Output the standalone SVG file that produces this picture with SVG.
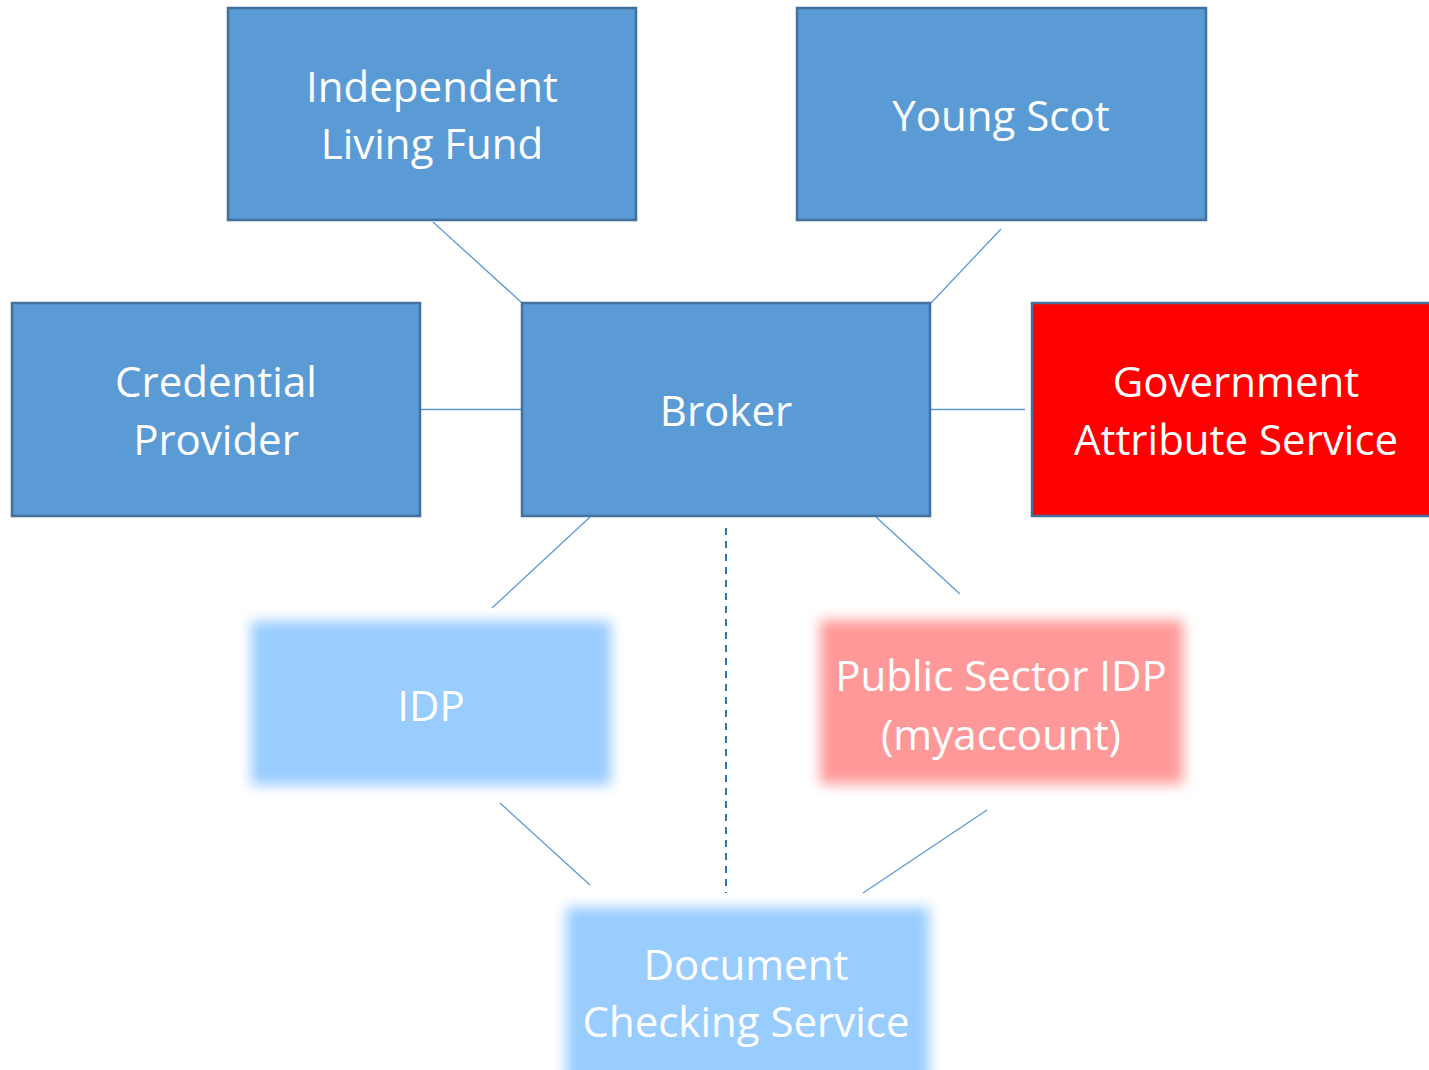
<svg xmlns="http://www.w3.org/2000/svg" width="1429" height="1070" viewBox="0 0 1429 1070">
<style>
.box{fill:#5B9BD5;stroke:#41719C;stroke-width:2.5}
.red{fill:#FF0000;stroke:#41719C;stroke-width:2.5}
.lbl{font-family:"Open Sans","Noto Sans",sans-serif;font-size:42px;fill:#FFFFFF;text-anchor:middle}
.con{stroke:#5B9BD5;stroke-width:1.3;fill:none}
.dash{stroke:#2E75B6;stroke-width:2;stroke-dasharray:7 6;fill:none}
</style>
<defs>
<filter id="soft" x="-15%" y="-25%" width="130%" height="150%">
<feGaussianBlur stdDeviation="6.5"/>
</filter>
</defs>
<rect width="1429" height="1070" fill="#FFFFFF"/>
<g id="connectors">
<line class="con" x1="433" y1="222" x2="521" y2="302"/>
<line class="con" x1="1001" y1="229" x2="931" y2="303"/>
<line class="con" x1="420" y1="409.5" x2="521" y2="409.5"/>
<line class="con" x1="931" y1="409.5" x2="1025" y2="409.5"/>
<line class="con" x1="590" y1="517" x2="492" y2="608"/>
<line class="con" x1="876" y1="517" x2="960" y2="594"/>
<line class="dash" x1="726" y1="528" x2="726" y2="893"/>
<line class="con" x1="500" y1="803" x2="590" y2="885"/>
<line class="con" x1="987" y1="810" x2="863" y2="893"/>
</g>
<g id="ilf">
<rect class="box" x="228" y="8" width="408" height="212"/>
<text class="lbl" x="432" y="102">Independent</text>
<text class="lbl" x="432" y="159">Living Fund</text>
</g>
<g id="young-scot">
<rect class="box" x="797" y="8" width="409" height="212"/>
<text class="lbl" x="1001" y="131">Young Scot</text>
</g>
<g id="credential-provider">
<rect class="box" x="12" y="303" width="408" height="213"/>
<text class="lbl" x="216" y="397">Credential</text>
<text class="lbl" x="216" y="455">Provider</text>
</g>
<g id="broker">
<rect class="box" x="522" y="303" width="408" height="213"/>
<text class="lbl" x="726" y="426">Broker</text>
</g>
<g id="gov-attribute-service">
<rect class="red" x="1032" y="303" width="410" height="213"/>
<text class="lbl" x="1236" y="397">Government</text>
<text class="lbl" x="1236" y="455">Attribute Service</text>
</g>
<g id="idp">
<rect x="251" y="621" width="360" height="164" fill="#99CCFF" filter="url(#soft)"/>
<text class="lbl" x="431" y="721">IDP</text>
</g>
<g id="public-sector-idp">
<rect x="820" y="620" width="363" height="164" fill="#FF9999" filter="url(#soft)"/>
<text class="lbl" x="1001" y="691">Public Sector IDP</text>
<text class="lbl" x="1001" y="750">(myaccount)</text>
</g>
<g id="document-checking-service">
<rect x="566" y="907" width="363" height="180" fill="#99CCFF" filter="url(#soft)"/>
<text class="lbl" x="746" y="980">Document</text>
<text class="lbl" x="746" y="1037">Checking Service</text>
</g>
</svg>
